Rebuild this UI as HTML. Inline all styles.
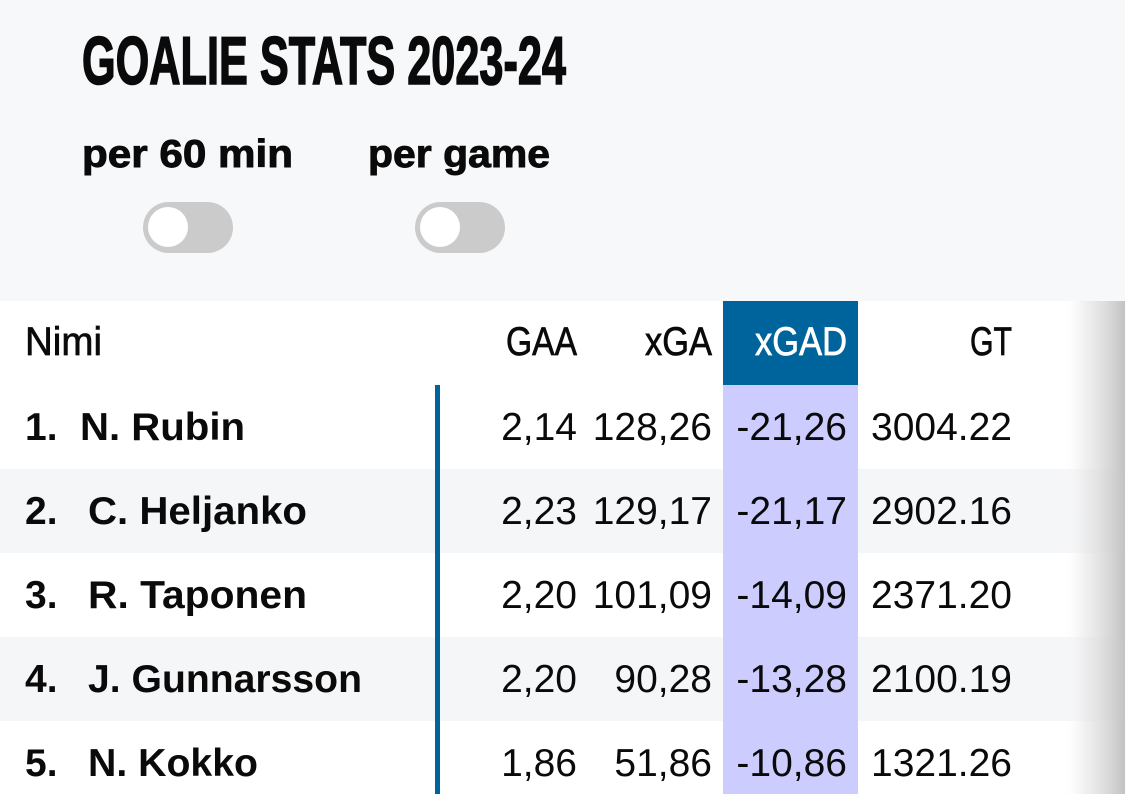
<!DOCTYPE html>
<html><head><meta charset="utf-8"><style>
html,body{margin:0;padding:0;background:#f7f8fa;}
svg{display:block;}
text{font-family:"Liberation Sans",sans-serif;fill:#0a0a0a;}
.t{font-family:"Liberation Sans Narrow","Liberation Sans",sans-serif;font-weight:700;stroke:#0a0a0a;stroke-width:1.6px;}
.b{font-weight:700;}
.p{stroke:#0a0a0a;stroke-width:0.9px;}
.n{font-size:39px;}
.h{font-size:40px;stroke:#0a0a0a;stroke-width:0.7px;}
</style></head><body>
<svg width="1125" height="794" viewBox="0 0 1125 794" xmlns="http://www.w3.org/2000/svg">
<defs>
<linearGradient id="sh" x1="0" y1="0" x2="1" y2="0">
<stop offset="0" stop-color="#ffffff" stop-opacity="0"/>
<stop offset="0.35" stop-color="#e8e8e8" stop-opacity="0.6"/>
<stop offset="1" stop-color="#c2c2c2" stop-opacity="1"/>
</linearGradient>
</defs>
<rect x="0" y="0" width="1125" height="794" fill="#f7f8fa"/>
<text class="t" x="82" y="84" font-size="68" textLength="484" lengthAdjust="spacingAndGlyphs">GOALIE STATS 2023-24</text>
<text class="b p" x="82" y="167" font-size="39" textLength="211" lengthAdjust="spacingAndGlyphs">per 60 min</text>
<text class="b p" x="368" y="167" font-size="39" textLength="182" lengthAdjust="spacingAndGlyphs">per game</text>
<rect x="143" y="202" width="90" height="51" rx="25.5" fill="#cbcbcb"/>
<circle cx="168" cy="227" r="20" fill="#ffffff"/>
<rect x="415" y="202" width="90" height="51" rx="25.5" fill="#cbcbcb"/>
<circle cx="440" cy="227" r="20" fill="#ffffff"/>

<!-- table -->
<rect x="0" y="301" width="1125" height="493" fill="#ffffff"/>
<rect x="0" y="469" width="1125" height="84" fill="#f5f6f8"/>
<rect x="0" y="637" width="1125" height="84" fill="#f5f6f8"/>
<rect x="723" y="301" width="135" height="84" fill="#00649c"/>
<rect x="723" y="385" width="135" height="409" fill="#ccccfe"/>
<rect x="435" y="385" width="5" height="409" fill="#00649c"/>

<!-- header -->
<text class="h" x="25" y="355" textLength="77" lengthAdjust="spacingAndGlyphs">Nimi</text>
<text class="h" x="506" y="355" textLength="71" lengthAdjust="spacingAndGlyphs">GAA</text>
<text class="h" x="645" y="355" textLength="67" lengthAdjust="spacingAndGlyphs">xGA</text>
<text class="h" x="755" y="355" textLength="92" lengthAdjust="spacingAndGlyphs" style="fill:#ffffff;stroke:#ffffff">xGAD</text>
<text class="h" x="970" y="355" textLength="42" lengthAdjust="spacingAndGlyphs">GT</text>

<!-- row 1 -->
<text class="b n" x="25" y="440">1.</text>
<text class="b n" x="80" y="440" textLength="165" lengthAdjust="spacingAndGlyphs">N. Rubin</text>
<text class="n" x="577" y="440" text-anchor="end">2,14</text>
<text class="n" x="712" y="440" text-anchor="end">128,26</text>
<text class="n" x="847" y="440" text-anchor="end">-21,26</text>
<text class="n" x="1012" y="440" text-anchor="end">3004.22</text>
<!-- row 2 -->
<text class="b n" x="25" y="524">2.</text>
<text class="b n" x="88" y="524" textLength="219" lengthAdjust="spacingAndGlyphs">C. Heljanko</text>
<text class="n" x="577" y="524" text-anchor="end">2,23</text>
<text class="n" x="712" y="524" text-anchor="end">129,17</text>
<text class="n" x="847" y="524" text-anchor="end">-21,17</text>
<text class="n" x="1012" y="524" text-anchor="end">2902.16</text>
<!-- row 3 -->
<text class="b n" x="25" y="608">3.</text>
<text class="b n" x="88" y="608" textLength="219" lengthAdjust="spacingAndGlyphs">R. Taponen</text>
<text class="n" x="577" y="608" text-anchor="end">2,20</text>
<text class="n" x="712" y="608" text-anchor="end">101,09</text>
<text class="n" x="847" y="608" text-anchor="end">-14,09</text>
<text class="n" x="1012" y="608" text-anchor="end">2371.20</text>
<!-- row 4 -->
<text class="b n" x="25" y="692">4.</text>
<text class="b n" x="88" y="692" textLength="274" lengthAdjust="spacingAndGlyphs">J. Gunnarsson</text>
<text class="n" x="577" y="692" text-anchor="end">2,20</text>
<text class="n" x="712" y="692" text-anchor="end">90,28</text>
<text class="n" x="847" y="692" text-anchor="end">-13,28</text>
<text class="n" x="1012" y="692" text-anchor="end">2100.19</text>
<!-- row 5 -->
<text class="b n" x="25" y="776">5.</text>
<text class="b n" x="88" y="776" textLength="170" lengthAdjust="spacingAndGlyphs">N. Kokko</text>
<text class="n" x="577" y="776" text-anchor="end">1,86</text>
<text class="n" x="712" y="776" text-anchor="end">51,86</text>
<text class="n" x="847" y="776" text-anchor="end">-10,86</text>
<text class="n" x="1012" y="776" text-anchor="end">1321.26</text>

<!-- right scroll shadow -->
<rect x="1062" y="301" width="63" height="493" fill="url(#sh)"/>
</svg>
</body></html>
